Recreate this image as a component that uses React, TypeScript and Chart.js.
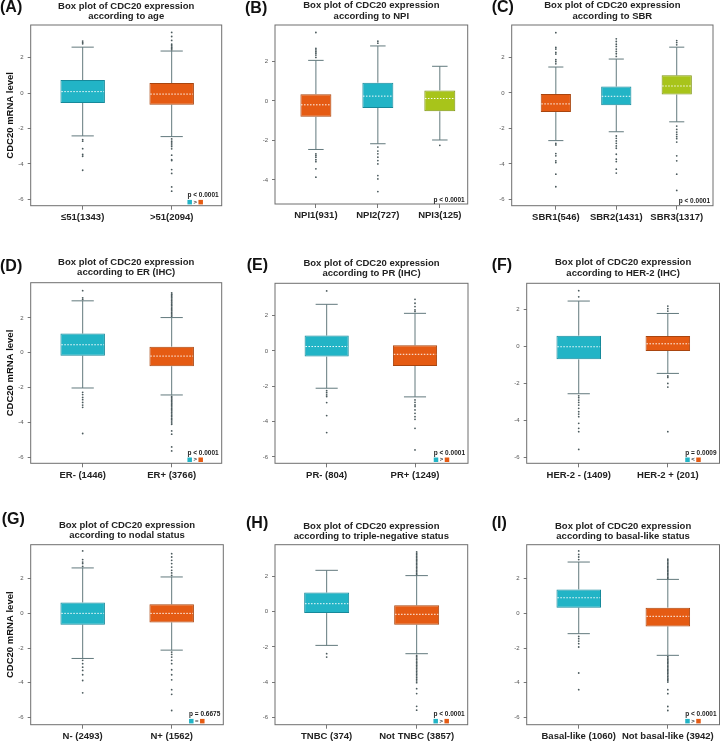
import React, { useEffect, useRef } from 'react';
import { Chart, registerables } from 'chart.js';

Chart.register(...registerables);
Chart.defaults.font.family = "'Liberation Sans', Arial, Helvetica, sans-serif";

// ---------- data (stats per category: [low whisker, Q1, median, Q3, high whisker]) ----------
const Y_TICKS = [-6, -4, -2, 0, 2];

// (A) age
const ageLabels = ['≤51(1343)', '>51(2094)'];
const ageStats = [
  [-2.42, -0.56, 0.08, 0.73, 2.59],
  [-2.46, -0.66, -0.06, 0.56, 2.37],
];
const ageOutliers = [
  [2.93, 2.85, 2.78, -2.63, -2.72, -3.14, -3.47, -3.57, -4.36],
  [3.42, 3.19, 2.97, 2.76, 2.67, 2.59, 2.52, 2.44, -2.59, -2.72, -2.82, -2.93, -3.02, -3.15, -3.51, -3.76, -3.81, -4.32, -4.54, -5.3, -5.54],
];

// (B) NPI
const npiLabels = ['NPI1(931)', 'NPI2(727)', 'NPI3(125)'];
const npiStats = [
  [-2.46, -0.81, -0.2, 0.34, 2.05],
  [-2.17, -0.36, 0.24, 0.92, 2.78],
  [-1.98, -0.53, 0.12, 0.53, 1.75],
];
const npiOutliers = [
  [3.46, 2.66, 2.58, 2.49, 2.41, 2.32, 2.2, -2.68, -2.76, -2.85, -2.98, -3.08, -3.44, -3.86],
  [3.02, 2.92, -2.34, -2.54, -2.68, -2.85, -3.02, -3.19, -3.78, -3.95, -4.59],
  [-2.25],
];

// (C) SBR
const sbrLabels = ['SBR1(546)', 'SBR2(1431)', 'SBR3(1317)'];
const sbrStats = [
  [-2.69, -1.08, -0.62, -0.06, 1.46],
  [-2.19, -0.69, -0.19, 0.36, 1.91],
  [-1.63, -0.09, 0.39, 0.99, 2.58],
];
const sbrOutliers = [
  [3.4, 2.56, 2.47, 2.28, 2.19, 1.87, 1.76, 1.64, -2.84, -2.93, -3.42, -3.55, -3.83, -3.93, -4.58, -5.29],
  [3.05, 2.9, 2.75, 2.62, 2.47, 2.34, 2.21, 2.06, -2.43, -2.56, -2.71, -2.84, -2.99, -3.12, -3.46, -3.74, -3.87, -4.3, -4.52],
  [2.95, 2.84, 2.71, -1.87, -2.06, -2.21, -2.34, -2.47, -2.58, -2.77, -3.55, -3.83, -4.58, -5.5],
];

// (D) ER
const erLabels = ['ER- (1446)', 'ER+ (3766)'];
const erStats = [
  [-2.02, -0.17, 0.46, 1.1, 2.98],
  [-2.42, -0.77, -0.19, 0.35, 2.02],
];
const erOutliers = [
  [3.56, 3.15, 3.06, -2.27, -2.4, -2.56, -2.69, -2.85, -3.0, -3.13, -4.63],
  [3.44, 3.36, 3.3, 3.22, 3.15, 3.08, 3.0, 2.92, 2.85, 2.77, 2.7, 2.62, 2.55, 2.47, 2.4, 2.32, 2.25, 2.17, 2.1,
   -2.5, -2.57, -2.65, -2.72, -2.8, -2.88, -2.95, -3.03, -3.1, -3.18, -3.26, -3.33, -3.41, -3.5, -3.58, -3.66, -3.75, -3.84, -3.92, -4.02, -4.1, -4.48, -4.67, -5.4, -5.63],
];

// (E) PR
const prLabels = ['PR- (804)', 'PR+ (1249)'];
const prStats = [
  [-2.11, -0.32, 0.25, 0.87, 2.64],
  [-2.6, -0.85, -0.19, 0.32, 2.13],
];
const prOutliers = [
  [3.4, -2.25, -2.36, -2.49, -2.58, -2.92, -3.66, -4.62],
  [2.92, 2.7, 2.51, 2.32, 2.23, -2.77, -2.91, -3.06, -3.15, -3.34, -3.53, -3.72, -3.87, -4.38, -5.6],
];

// (F) HER-2
const herLabels = ['HER-2 - (1409)', 'HER-2 + (201)'];
const herStats = [
  [-2.56, -0.7, -0.02, 0.58, 2.45],
  [-1.46, -0.25, 0.14, 0.56, 1.78],
];
const herOutliers = [
  [3.01, 2.68, -2.67, -2.77, -2.9, -3.03, -3.17, -3.35, -3.53, -3.66, -3.8, -4.16, -4.43, -4.61, -5.57],
  [2.18, 2.04, 1.91, -1.6, -1.68, -2.0, -2.2, -4.61],
];

// (G) nodal status
const nodalLabels = ['N- (2493)', 'N+ (1562)'];
const nodalStats = [
  [-2.6, -0.65, 0.0, 0.63, 2.62],
  [-2.12, -0.52, 0.0, 0.52, 2.1],
];
const nodalOutliers = [
  [3.6, 3.1, 2.96, 2.87, 2.71, -2.71, -2.9, -3.1, -3.29, -3.54, -3.87, -4.58],
  [3.44, 3.25, 3.06, 2.87, 2.67, 2.48, 2.33, 2.19, -2.23, -2.37, -2.52, -2.71, -2.9, -3.25, -3.54, -3.83, -4.4, -4.67, -5.6],
];

// (H) triple-negative
const tnbcLabels = ['TNBC (374)', 'Not TNBC (3857)'];
const tnbcStats = [
  [-1.91, -0.08, 0.45, 1.08, 2.34],
  [-2.38, -0.74, -0.15, 0.36, 2.04],
];
const tnbcOutliers = [
  [-2.38, -2.57],
  [3.38, 3.3, 3.22, 3.14, 3.05, 2.97, 2.9, 2.82, 2.74, 2.66, 2.58, 2.5, 2.42, 2.34, 2.26, 2.18, 2.1,
   -2.47, -2.55, -2.63, -2.71, -2.8, -2.88, -2.96, -3.05, -3.13, -3.21, -3.3, -3.38, -3.47, -3.55, -3.64, -3.73, -3.82, -3.92, -4.02, -4.36, -4.64, -5.36, -5.58],
];

// (I) basal-like
const basalLabels = ['Basal-like (1060)', 'Not basal-like (3942)'];
const basalStats = [
  [-1.17, 0.33, 0.9, 1.38, 2.96],
  [-2.42, -0.75, -0.17, 0.33, 1.96],
];
const basalOutliers = [
  [3.6, 3.4, 3.25, 3.1, -1.33, -1.46, -1.6, -1.75, -1.94, -3.44, -4.4],
  [3.12, 3.04, 2.96, 2.88, 2.8, 2.72, 2.64, 2.56, 2.48, 2.4, 2.32, 2.24, 2.16, 2.08, 2.01,
   -2.5, -2.58, -2.66, -2.74, -2.82, -2.9, -2.98, -3.06, -3.14, -3.22, -3.3, -3.38, -3.46, -3.55, -3.63, -3.72, -3.8, -3.88, -3.96, -4.4, -4.63, -5.37, -5.6],
];

// ---------- styles ----------
const CYAN = { fill: '#22b4c6', edge: '#16899a' };
const ORANGE = { fill: '#e55b13', edge: '#a9450f' };
const LIME = { fill: '#a8c41a', edge: '#7e9412' };
const WHISKER = '#62797d';
const DOT = '#4b5a5d';
const FRAME = '#6e6e6e';
const TITLE_SIZE = 9.5;
const TITLE_LH = 1.1;
const CAP = 0.125;
const MED_HALF = 0.24;
const X_AXIS_H = 22;

const TITLE1 = 'Box plot of CDC20 expression';

// ---------- layout ----------
const panels = [
  { letter: '(A)', title: [TITLE1, 'according to age'], labels: ageLabels, stats: ageStats, outliers: ageOutliers,
    colors: [CYAN, ORANGE], p: 'p < 0.0001', sign: '>', yTitle: true,
    yRange: [-6.36, 3.84], xRange: [-0.584, 1.562],
    canvas: { x: 0, y: 0, w: 240, h: 250 }, frame: { l: 30.7, t: 25, r: 221.7, b: 205.7 }, titleY: 6, letterPos: [0, 8] },
  { letter: '(B)', title: [TITLE1, 'according to NPI'], labels: npiLabels, stats: npiStats, outliers: npiOutliers,
    colors: [ORANGE, CYAN, LIME], p: 'p < 0.0001', sign: null, yTitle: false,
    yRange: [-5.22, 3.84], xRange: [-0.66, 2.45],
    canvas: { x: 240, y: 0, w: 240, h: 250 }, frame: { l: 275, t: 25, r: 467.7, b: 204 }, titleY: 5.7, letterPos: [245, 9] },
  { letter: '(C)', title: [TITLE1, 'according to SBR'], labels: sbrLabels, stats: sbrStats, outliers: sbrOutliers,
    colors: [ORANGE, CYAN, LIME], p: 'p < 0.0001', sign: null, yTitle: false,
    yRange: [-6.36, 3.83], xRange: [-0.73, 2.6],
    canvas: { x: 480, y: 0, w: 240, h: 250 }, frame: { l: 511.7, t: 25, r: 713, b: 205.7 }, titleY: 5.7, letterPos: [491.7, 8] },
  { letter: '(D)', title: [TITLE1, 'according to ER (IHC)'], labels: erLabels, stats: erStats, outliers: erOutliers,
    colors: [CYAN, ORANGE], p: 'p < 0.0001', sign: '>', yTitle: true,
    yRange: [-6.34, 4.02], xRange: [-0.584, 1.562],
    canvas: { x: 0, y: 250, w: 240, h: 247 }, frame: { l: 30.7, t: 282.7, r: 221.7, b: 463.3 }, titleY: 262.3, letterPos: [0, 266.7] },
  { letter: '(E)', title: [TITLE1, 'according to PR (IHC)'], labels: prLabels, stats: prStats, outliers: prOutliers,
    colors: [CYAN, ORANGE], p: 'p < 0.0001', sign: '>', yTitle: false,
    yRange: [-6.36, 3.83], xRange: [-0.585, 1.6],
    canvas: { x: 240, y: 250, w: 240, h: 247 }, frame: { l: 275, t: 283.3, r: 468, b: 463.3 }, titleY: 263.3, letterPos: [246.7, 265.7] },
  { letter: '(F)', title: [TITLE1, 'according to HER-2 (IHC)'], labels: herLabels, stats: herStats, outliers: herOutliers,
    colors: [CYAN, ORANGE], p: 'p = 0.0009', sign: '<', yTitle: false,
    yRange: [-6.32, 3.41], xRange: [-0.584, 1.58],
    canvas: { x: 480, y: 250, w: 240, h: 247 }, frame: { l: 526.7, t: 283.3, r: 719.5, b: 463.3 }, titleY: 262.7, letterPos: [491.7, 265.7] },
  { letter: '(G)', title: [TITLE1, 'according to nodal status'], labels: nodalLabels, stats: nodalStats, outliers: nodalOutliers,
    colors: [CYAN, ORANGE], p: 'p = 0.6675', sign: '=', yTitle: true,
    yRange: [-6.42, 3.96], xRange: [-0.584, 1.58],
    canvas: { x: 0, y: 497, w: 240, h: 250 }, frame: { l: 30.7, t: 544.7, r: 223.3, b: 724.7 }, titleY: 525.3, letterPos: [1.7, 519.7] },
  { letter: '(H)', title: [TITLE1, 'according to triple-negative status'], labels: tnbcLabels, stats: tnbcStats, outliers: tnbcOutliers,
    colors: [CYAN, ORANGE], p: 'p < 0.0001', sign: '>', yTitle: false,
    yRange: [-6.4, 3.79], xRange: [-0.574, 1.567],
    canvas: { x: 240, y: 497, w: 240, h: 250 }, frame: { l: 275, t: 544.7, r: 467.7, b: 724.7 }, titleY: 526.3, letterPos: [246, 523.7] },
  { letter: '(I)', title: [TITLE1, 'according to basal-like status'], labels: basalLabels, stats: basalStats, outliers: basalOutliers,
    colors: [CYAN, ORANGE], p: 'p < 0.0001', sign: '>', yTitle: false,
    yRange: [-6.42, 3.96], xRange: [-0.584, 1.58],
    canvas: { x: 480, y: 497, w: 240, h: 250 }, frame: { l: 526.7, t: 544.7, r: 719.5, b: 724.7 }, titleY: 526.3, letterPos: [491.7, 523.7] },
];

function BoxPanel({ cfg }: { cfg: any }) {
  const ref = useRef<HTMLCanvasElement>(null);
  useEffect(() => {
    const c = cfg.canvas;
    const f = cfg.frame;
    const lh = TITLE_SIZE * TITLE_LH;
    const pt = cfg.titleY - c.y - lh / 2;
    const pb = f.t - c.y - pt - 2 * lh;
    const yW = f.l - c.x;
    const padR = c.x + c.w - f.r;
    const padB = c.y + c.h - f.b - X_AXIS_H;
    const [ymin, ymax] = cfg.yRange;
    const [xmin, xmax] = cfg.xRange;

    const whisk: any[] = [];
    const meds: any[] = [];
    cfg.stats.forEach((s: number[], i: number) => {
      const [lo, q1, med, q3, hi] = s;
      whisk.push(
        { x: i, y: lo }, { x: i, y: q1 }, { x: i, y: null },
        { x: i, y: q3 }, { x: i, y: hi }, { x: i, y: null },
        { x: i - CAP, y: lo }, { x: i + CAP, y: lo }, { x: i, y: null },
        { x: i - CAP, y: hi }, { x: i + CAP, y: hi }, { x: i, y: null },
      );
      meds.push({ x: i - MED_HALF, y: med }, { x: i + MED_HALF, y: med }, { x: i, y: null });
    });
    const dots: any[] = [];
    cfg.outliers.forEach((arr: number[], i: number) => arr.forEach((v) => dots.push({ x: i, y: v })));

    const decor = {
      id: 'decor',
      afterDraw(chart: any) {
        const { ctx, chartArea: a } = chart;
        ctx.save();
        ctx.strokeStyle = FRAME;
        ctx.lineWidth = 1;
        ctx.strokeRect(a.left, a.top, a.right - a.left, a.bottom - a.top);
        ctx.fillStyle = '#111';
        ctx.font = "bold 16px 'Liberation Sans', Arial, sans-serif";
        ctx.textBaseline = 'middle';
        ctx.textAlign = 'left';
        ctx.fillText(cfg.letter, cfg.letterPos[0] - c.x, cfg.letterPos[1] - c.y);
        ctx.font = "bold 6.5px 'Liberation Sans', Arial, sans-serif";
        ctx.textAlign = 'right';
        ctx.fillStyle = '#222';
        const tx = a.right - 3;
        if (cfg.sign) {
          const ty = a.bottom - 10.5;
          ctx.fillText(cfg.p, tx, ty);
          const w = ctx.measureText(cfg.p).width;
          const left = tx - w;
          const sq = 4.5;
          const sy = a.bottom - 5.8;
          ctx.fillStyle = cfg.colors[0].fill;
          ctx.fillRect(left, sy, sq, sq);
          ctx.fillStyle = cfg.colors[1].fill;
          ctx.fillRect(left + 11, sy, sq, sq);
          ctx.fillStyle = '#333';
          ctx.textAlign = 'center';
          ctx.font = "bold 6px 'Liberation Sans', Arial, sans-serif";
          ctx.fillText(cfg.sign, left + 7.8, sy + sq / 2);
        } else {
          ctx.fillText(cfg.p, tx, a.bottom - 4);
        }
        ctx.restore();
      },
    };

    const chart = new Chart(ref.current as HTMLCanvasElement, {
      type: 'bar',
      data: {
        datasets: [
          {
            type: 'line',
            data: whisk,
            borderColor: WHISKER,
            borderWidth: 1,
            pointRadius: 0,
            spanGaps: false,
            tension: 0,
            order: 4,
          } as any,
          {
            type: 'bar',
            data: cfg.stats.map((s: number[], i: number) => ({ x: i, y: [s[1], s[3]] })),
            backgroundColor: cfg.colors.map((k: any) => k.fill),
            borderColor: cfg.colors.map((k: any) => k.edge),
            borderWidth: 1,
            borderSkipped: false,
            categoryPercentage: 0.5,
            barPercentage: 1,
            order: 3,
          } as any,
          {
            type: 'line',
            data: meds,
            borderColor: 'rgba(255,255,255,0.95)',
            borderWidth: 1,
            borderDash: [1.5, 1.5],
            pointRadius: 0,
            spanGaps: false,
            tension: 0,
            order: 2,
          } as any,
          {
            type: 'scatter',
            data: dots,
            pointRadius: 0.9,
            pointBackgroundColor: DOT,
            pointBorderWidth: 0,
            order: 1,
          } as any,
        ],
      },
      options: {
        animation: false,
        responsive: false,
        events: [],
        layout: { padding: { top: 0, left: 0, right: padR, bottom: padB }, autoPadding: false } as any,
        plugins: {
          legend: { display: false },
          tooltip: { enabled: false },
          title: {
            display: true,
            text: cfg.title,
            fullSize: false,
            color: '#222',
            font: { size: TITLE_SIZE, weight: 'bold', lineHeight: TITLE_LH },
            padding: { top: pt, bottom: pb },
          },
        },
        scales: {
          x: {
            type: 'linear',
            min: xmin,
            max: xmax,
            offset: false,
            afterBuildTicks: (s: any) => {
              s.ticks = cfg.labels.map((_: string, i: number) => ({ value: i }));
            },
            afterFit: (s: any) => {
              s.height = X_AXIS_H;
            },
            ticks: {
              callback: (v: any) => cfg.labels[v] ?? '',
              color: '#222',
              font: { size: 9.5, weight: 'bold' },
              padding: 2,
              autoSkip: false,
              maxRotation: 0,
              minRotation: 0,
            },
            grid: { display: true, drawOnChartArea: false, drawTicks: true, tickLength: 4, color: '#777', offset: false },
            border: { display: false },
          } as any,
          y: {
            type: 'linear',
            min: ymin,
            max: ymax,
            afterBuildTicks: (s: any) => {
              s.ticks = Y_TICKS.filter((v) => v >= ymin && v <= ymax).map((v) => ({ value: v }));
            },
            afterFit: (s: any) => {
              s.width = yW;
            },
            ticks: { color: '#555', font: { size: 6 }, padding: 4 },
            grid: { display: true, drawOnChartArea: false, drawTicks: true, tickLength: 3, color: '#777' },
            border: { display: false },
            title: cfg.yTitle
              ? {
                  display: true,
                  text: 'CDC20 mRNA level',
                  color: '#111',
                  font: { size: 9.5, weight: 'bold', lineHeight: 1.2 },
                  padding: { top: 4.3, bottom: 0 },
                }
              : { display: false },
          } as any,
        },
      },
      plugins: [decor],
    });
    return () => chart.destroy();
  }, [cfg]);

  const c = cfg.canvas;
  return (
    <canvas
      ref={ref}
      width={c.w}
      height={c.h}
      style={{ position: 'absolute', left: c.x, top: c.y, width: c.w, height: c.h }}
    />
  );
}

export default function App() {
  return (
    <div style={{ position: 'absolute', left: 0, top: 0, width: 720, height: 747, background: '#fff', overflow: 'hidden' }}>
      {panels.map((p) => (
        <BoxPanel key={p.letter} cfg={p} />
      ))}
    </div>
  );
}
